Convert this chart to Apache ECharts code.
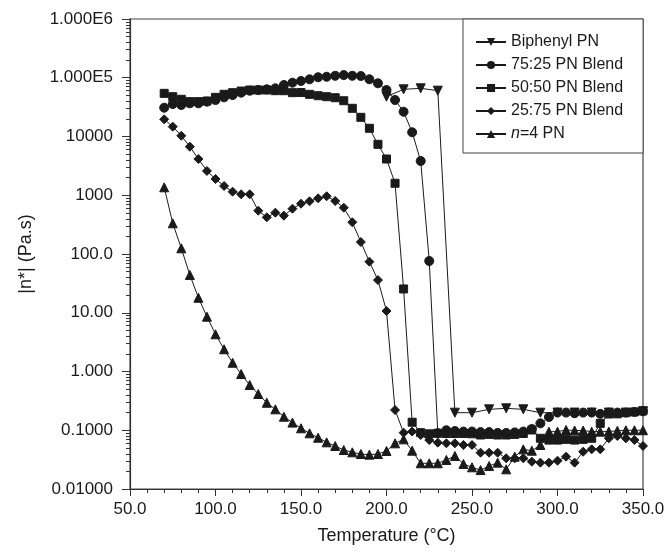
<!DOCTYPE html>
<html>
<head>
    <meta charset="UTF-8">
    <title>Complex viscosity</title>
    <style>
        html, body { margin: 0; padding: 0; background: #fff; }
        #main { width: 668px; height: 553px; }
    </style>
</head>
<body>
<div id="main"></div>
<script src="https://cdn.jsdelivr.net/npm/echarts@6/dist/echarts.min.js"></script>
<script type="text/javascript">
    // temperatures (°C)
    var tempBlend = [70, 75, 80, 85, 90, 95, 100, 105, 110, 115, 120, 125, 130, 135, 140, 145, 150, 155, 160, 165,
        170, 175, 180, 185, 190, 195, 200, 205, 210, 215, 220, 225, 230, 235, 240, 245, 250, 255, 260, 265,
        270, 275, 280, 285, 290, 295, 300, 305, 310, 315, 320, 325, 330, 335, 340, 345, 350];
    var tempBiphenyl = [200, 210, 220, 230, 240, 250, 260, 270, 280, 290, 300, 310, 320, 330, 340, 350];

    // |n*| (Pa.s)
    var biphenylPN = [47600, 63500, 66100, 60300, 0.199, 0.199, 0.227, 0.236, 0.227, 0.199, 0.2, 0.2, 0.2, 0.2, 0.2, 0.21];
    var blend7525 = [30900, 35700, 34400, 36700, 36700, 39200, 41800, 46400, 50800, 55700, 60200, 61800, 63500, 66100,
        75300, 82400, 88100, 94100, 102000, 104000, 108000, 111000, 108000, 107000, 94200, 80500, 61800, 41800, 26400,
        11800, 3830, 76, 0.089, 0.1, 0.097, 0.095, 0.095, 0.093, 0.093, 0.09, 0.09, 0.092, 0.095, 0.105, 0.131, 0.168,
        0.2, 0.2, 0.195, 0.2, 0.2, 0.19, 0.2, 0.2, 0.2, 0.205, 0.21];
    var blend5050 = [54300, 47600, 43000, 39200, 39200, 40200, 46400, 52300, 55700, 59400, 61800, 61800, 61800, 60200,
        60200, 55700, 56000, 52200, 49500, 47600, 45700, 40600, 30200, 21200, 13800, 7360, 4140, 1600, 25.4, 0.137,
        0.091, 0.087, 0.089, 0.088, 0.088, 0.088, 0.087, 0.083, 0.085, 0.083, 0.083, 0.085, 0.088, 0.101, 0.073, 0.068,
        0.068, 0.07, 0.068, 0.07, 0.073, 0.131, 0.189, 0.19, 0.199, 0.205, 0.214];
    var blend2575 = [19600, 14700, 10300, 6700, 4140, 2590, 1890, 1436, 1150, 1038, 1038, 546, 421, 505, 449, 590, 718,
        789, 887, 960, 798, 614, 347, 160, 74, 36, 10.7, 0.221, 0.091, 0.095, 0.083, 0.068, 0.0615, 0.0599, 0.0599,
        0.0561, 0.0561, 0.0415, 0.0415, 0.0415, 0.0333, 0.0333, 0.0333, 0.0292, 0.0281, 0.0281, 0.0303, 0.0355, 0.0281,
        0.0431, 0.0473, 0.0473, 0.0729, 0.0798, 0.0729, 0.0682, 0.054];
    var n4PN = [1365, 333, 125, 44, 18, 8.57, 4.3, 2.39, 1.41, 0.906, 0.589, 0.414, 0.294, 0.227, 0.17, 0.135, 0.108,
        0.0887, 0.0747, 0.0623, 0.054, 0.0461, 0.0421, 0.0394, 0.0384, 0.0394, 0.0444, 0.0599, 0.07, 0.0449, 0.0274,
        0.0274, 0.0274, 0.0312, 0.0365, 0.0267, 0.0234, 0.021, 0.0246, 0.0281, 0.0216, 0.0355, 0.0473, 0.0449, 0.0561,
        0.0946, 0.0946, 0.101, 0.099, 0.099, 0.0946, 0.0946, 0.095, 0.098, 0.1, 0.1, 0.1];

    var seriesNames = ['Biphenyl PN', '75:25 PN Blend', '50:50 PN Blend', '25:75 PN Blend', 'n=4 PN'];
    var yTickLabels = ['0.01000', '0.1000', '1.000', '10.00', '100.0', '1000', '10000', '1.000E5', '1.000E6'];

    function pairs(xs, ys) {
        var out = [];
        for (let i = 0; i < xs.length; i++) out.push([xs[i], ys[i]]);
        return out;
    }

    // helper category axis for log minor ticks (2..9 in each decade)
    var logSteps = [];
    var minorIdx = {};
    for (let i = 0; i <= 800; i++) logSteps.push(String(i));
    for (let d = 0; d < 8; d++) {
        for (let k = 2; k <= 9; k++) {
            minorIdx[Math.round((d + Math.log10(k)) * 100)] = true;
        }
    }

    var ink = '#1a1a1a';
    var font = 'Liberation Sans, Arial, sans-serif';

    function lineSeries(name, data, symbol, size, rotate) {
        return {
            name: name,
            type: 'line',
            data: data,
            symbol: symbol,
            symbolSize: size,
            symbolRotate: rotate || 0,
            showAllSymbol: true,
            lineStyle: {color: ink, width: 1},
            itemStyle: {color: ink, borderColor: ink},
            emphasis: {disabled: true},
            animation: false,
            z: 3
        };
    }

    var myChart = echarts.init(document.getElementById('main'));
    var option = {
        animation: false,
        textStyle: {fontFamily: font},
        grid: {left: 130, right: 25, top: 19, bottom: 64, show: true, borderColor: '#444', borderWidth: 1.2},
        legend: {
            orient: 'vertical',
            left: 463,
            top: 19,
            padding: [14, 20, 10, 12],
            itemWidth: 30,
            itemHeight: 10,
            itemGap: 5,
            backgroundColor: '#fff',
            borderColor: '#444',
            borderWidth: 1,
            data: seriesNames,
            textStyle: {fontSize: 16, color: '#1a1a1a', lineHeight: 18, rich: {i: {fontStyle: 'italic', fontSize: 16}}},
            formatter: function (name) {
                return name === 'n=4 PN' ? '{i|n}=4 PN' : name;
            }
        },
        xAxis: {
            type: 'value',
            min: 50,
            max: 350,
            interval: 50,
            name: 'Temperature (°C)',
            nameLocation: 'middle',
            nameGap: 38,
            nameTextStyle: {fontSize: 18, color: '#1a1a1a'},
            axisLine: {lineStyle: {color: '#333', width: 1.2}},
            axisTick: {length: 7, lineStyle: {color: '#333'}},
            minorTick: {show: true, splitNumber: 5, length: 4, lineStyle: {color: '#333'}},
            splitLine: {show: false},
            axisLabel: {fontSize: 17, color: '#1a1a1a', margin: 12, formatter: function (v) { return v.toFixed(1); }}
        },
        yAxis: [{
            type: 'log',
            logBase: 10,
            min: 0.01,
            max: 1e6,
            name: '|n*| (Pa.s)',
            nameLocation: 'middle',
            nameGap: 95,
            nameTextStyle: {fontSize: 18, color: '#1a1a1a'},
            axisLine: {show: true, lineStyle: {color: '#333', width: 1.2}},
            axisTick: {length: 8, lineStyle: {color: '#333'}},
            splitLine: {show: false},
            axisLabel: {
                fontSize: 17, color: '#1a1a1a', margin: 17,
                formatter: function (v) {
                    return yTickLabels[Math.round(Math.log10(v)) + 2];
                }
            }
        }, {
            type: 'category',
            position: 'left',
            data: logSteps,
            boundaryGap: false,
            axisLine: {show: false},
            axisLabel: {show: false},
            splitLine: {show: false},
            axisTick: {
                show: true,
                length: 4,
                interval: function (index) { return !!minorIdx[index]; },
                lineStyle: {color: '#333'}
            }
        }],
        series: [
            lineSeries(seriesNames[0], pairs(tempBiphenyl, biphenylPN), 'triangle', 9, 180),
            lineSeries(seriesNames[1], pairs(tempBlend, blend7525), 'circle', 9),
            lineSeries(seriesNames[2], pairs(tempBlend, blend5050), 'rect', 8),
            lineSeries(seriesNames[3], pairs(tempBlend, blend2575), 'diamond', 9),
            lineSeries(seriesNames[4], pairs(tempBlend, n4PN), 'triangle', 9)
        ]
    };
    myChart.setOption(option);
</script>
</body>
</html>
